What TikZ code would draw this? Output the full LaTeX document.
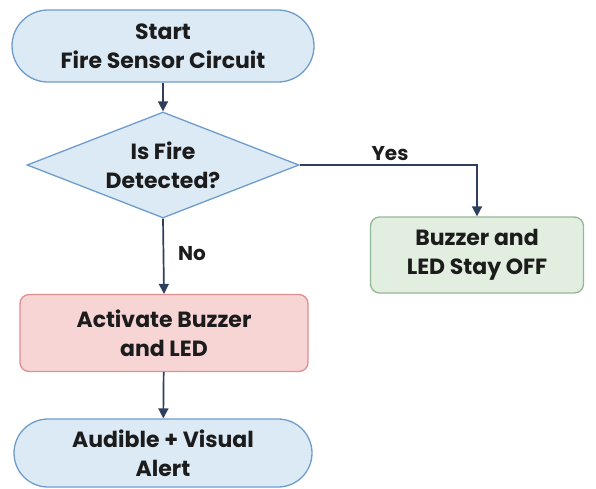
\documentclass[tikz,border=0pt]{standalone}
\usepackage{fontspec}
\setmainfont{Poppins}
\usetikzlibrary{shapes.geometric,arrows.meta}
\definecolor{bluefill}{HTML}{DCEAF6}
\definecolor{blueline}{HTML}{6E9CCB}
\definecolor{redfill}{HTML}{F7D5D5}
\definecolor{redline}{HTML}{E08E8E}
\definecolor{greenfill}{HTML}{E1EEE0}
\definecolor{greenline}{HTML}{94B896}
\definecolor{flow}{HTML}{2E3F5E}
\definecolor{ink}{HTML}{1C1C1C}
\tikzset{
  base/.style={draw, line width=1.3pt, text=ink, font=\fontsize{22}{29}\selectfont\bfseries, align=center, inner sep=0pt},
  terminal/.style={base, fill=bluefill, draw=blueline, rectangle, rounded corners=36pt, minimum width=302pt, minimum height=72pt},
  decision/.style={base, fill=bluefill, draw=blueline, diamond, minimum width=272pt, minimum height=106pt},
  action/.style={base, fill=redfill, draw=redline, rectangle, rounded corners=9pt, minimum width=288pt, minimum height=77pt},
  outcome/.style={base, fill=greenfill, draw=greenline, rectangle, rounded corners=9pt, minimum width=213pt, minimum height=76pt},
  caption/.style={text=ink, font=\fontsize{22}{29}\selectfont\bfseries, align=center, inner sep=0pt},
  flowline/.style={draw=flow, line width=1.7pt, -{Triangle[width=10pt,length=10pt]}},
  tag/.style={text=ink, font=\fontsize{20}{24}\selectfont\bfseries}
}
\begin{document}
\begin{tikzpicture}[x=1pt,y=-1pt]
  \useasboundingbox (0,0) rectangle (596,488);
  \node[terminal] (start) at (163,46) {Start\\Fire Sensor Circuit};
  % the diamond is sized on its own; its text sits on top of it
  \node[decision] (dec) at (163,165) {};
  \node[caption] (dectext) at (dec.center) {Is Fire\\Detected?};
  \node[outcome] (off) at (477,255) {Buzzer and\\LED Stay OFF};
  \node[action] (act) at (164,333) {Activate Buzzer\\and LED};
  \node[terminal, minimum width=298pt, minimum height=68pt, rounded corners=34pt] (alert) at (163,453) {Audible + Visual\\Alert};

  \draw[flowline] (start) -- (dec);
  \draw[flowline] (dec.east) -| (off.north);
  \draw[flowline] (dec.south) -- (act.north);
  \draw[flowline] (act) -- (alert);

  \node[tag] (yes) at (390,154) {Yes};
  \node[tag] (no) at (192,254) {No};
\end{tikzpicture}
\end{document}
